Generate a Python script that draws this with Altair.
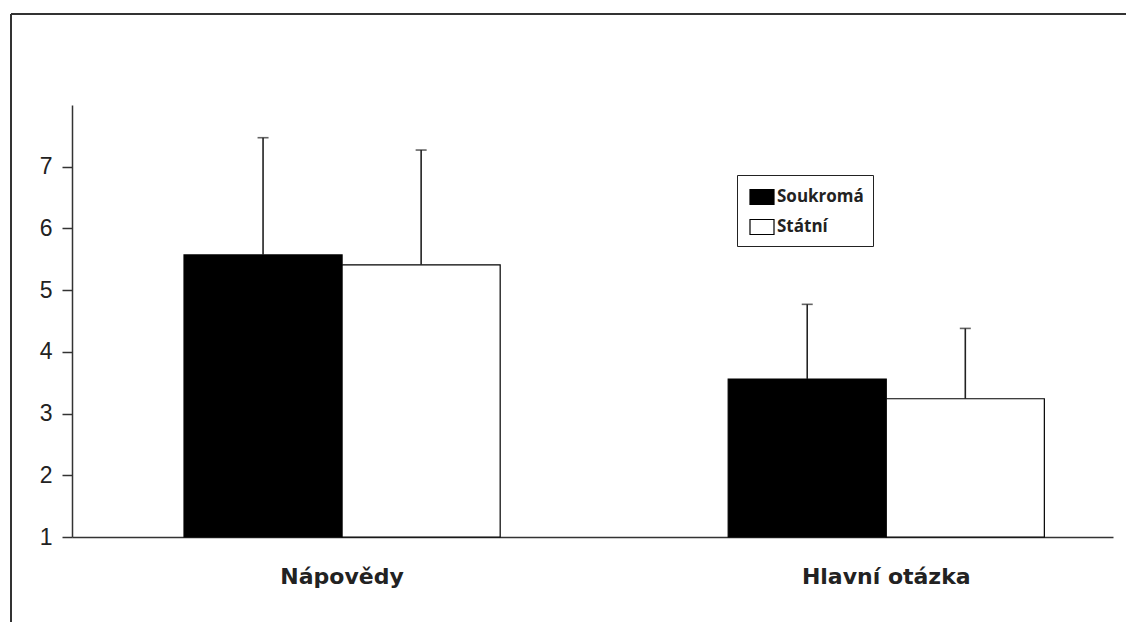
import altair as alt
import pandas as pd

# Mean scores with one standard deviation, by task part and school type
parts = ["Nápovědy", "Nápovědy", "Hlavní otázka", "Hlavní otázka"]
schools = ["Soukromá", "Státní", "Soukromá", "Státní"]
means = [5.57, 5.41, 3.56, 3.24]
sds = [1.90, 1.86, 1.21, 1.14]

part_order = ["Nápovědy", "Hlavní otázka"]
school_order = ["Soukromá", "Státní"]
y_ticks = [1, 2, 3, 4, 5, 6, 7]

df = pd.DataFrame({"part": parts, "school": schools, "mean": means, "sd": sds})

W, H = 1041, 432
PAD = {"left": 72, "top": 105, "right": 13, "bottom": 85}

x_enc = alt.X(
    "part:N",
    sort=part_order,
    title=None,
    scale=alt.Scale(paddingInner=0.419, paddingOuter=0.166, align=0.62),
    axis=alt.Axis(
        labelAngle=0,
        labelFont="DejaVu Sans",
        labelFontWeight="bold",
        labelFontSize=22,
        labelColor="#222222",
        labelPadding=29,
        ticks=False,
        domainColor="#333333",
        domainWidth=1.5,
        grid=False,
    ),
)
xoff = alt.XOffset(
    "school:N",
    sort=school_order,
    scale=alt.Scale(paddingInner=0, paddingOuter=0),
)
y_scale = alt.Scale(domain=[1, 8], nice=False, zero=False)

base = alt.Chart(df)

bars = base.mark_bar(stroke="black", strokeWidth=1.2).encode(
    x=x_enc,
    xOffset=xoff,
    y=alt.Y(
        "mean:Q",
        scale=y_scale,
        title=None,
        axis=alt.Axis(
            values=y_ticks,
            format="d",
            labelFont="Liberation Sans",
            labelFontSize=23,
            labelColor="#222222",
            labelPadding=10,
            tickSize=10,
            tickWidth=1.5,
            tickColor="#333333",
            domainColor="#333333",
            domainWidth=1.5,
            grid=False,
        ),
    ),
    y2=alt.datum(1),
    fill=alt.Fill(
        "school:N",
        sort=school_order,
        scale=alt.Scale(domain=school_order, range=["#000000", "#ffffff"]),
        legend=alt.Legend(
            title=None,
            orient="none",
            legendX=665,
            legendY=70,
            padding=9,
            strokeColor="#222222",
            fillColor="#ffffff",
            symbolType="M-1,-0.625L1,-0.625L1,0.625L-1,0.625Z",
            symbolSize=576,
            symbolStrokeColor="#000000",
            symbolStrokeWidth=1.2,
            symbolOffset=3,
            rowPadding=7,
            labelFont="Open Sans",
            labelFontWeight="bold",
            labelFontSize=17,
            labelColor="#222222",
            labelOffset=2,
        ),
    ),
)

err = base.mark_rule(color="#222222", strokeWidth=1.6).encode(
    x=x_enc,
    xOffset=xoff,
    y=alt.Y("mean:Q", scale=y_scale),
    y2="upper:Q",
).transform_calculate(upper="datum.mean + datum.sd")

caps = base.mark_tick(color="#222222", thickness=1.6, size=11).encode(
    x=x_enc,
    xOffset=xoff,
    y=alt.Y("upper:Q", scale=y_scale),
).transform_calculate(upper="datum.mean + datum.sd")

# Outer frame: top and left edges
frame_df = pd.DataFrame({"k": [0]})
frame_top = alt.Chart(frame_df).mark_rule(color="#333333", strokeWidth=2).encode(
    x=alt.value(-61), x2=alt.value(1060), y=alt.value(-91)
)
frame_left = alt.Chart(frame_df).mark_rule(color="#333333", strokeWidth=2).encode(
    x=alt.value(-61), y=alt.value(-91), y2=alt.value(530)
)

chart = (
    alt.layer(bars, err, caps, frame_top, frame_left)
    .properties(
        width=W,
        height=H,
        padding=PAD,
        autosize=alt.AutoSizeParams(type="none"),
        background="#ffffff",
    )
    .configure_view(stroke=None)
)

chart.save("out.html", embed_options={"renderer": "svg", "actions": False})
